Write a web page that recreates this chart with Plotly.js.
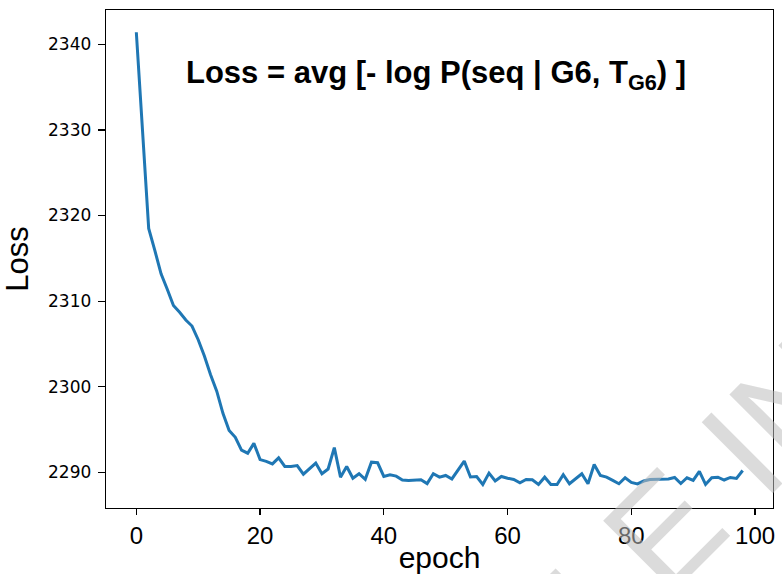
<!DOCTYPE html>
<html>
<head>
<meta charset="utf-8">
<script src="https://cdn.plot.ly/plotly-3.0.1.min.js"></script>
<style>
  html, body { margin: 0; padding: 0; background: #fff; }
  #chart { width: 782px; height: 574px; }
</style>
</head>
<body>
<div id="chart"></div>
<script>
// Epochs 0..98
const epochs = Array.from({length: 99}, (_, i) => i);

// Loss values
const lossValues = [
  2341.4, 2330.0, 2318.5, 2315.9, 2313.2, 2311.4, 2309.5, 2308.7, 2307.8, 2307.1,
  2305.5, 2303.6, 2301.4, 2299.5, 2296.9, 2294.9, 2294.1, 2292.6, 2292.25, 2293.4,
  2291.5, 2291.3, 2291.0, 2291.7, 2290.7, 2290.7, 2290.8, 2289.8, 2290.5, 2291.1,
  2289.85, 2290.4, 2292.9, 2289.45, 2290.7, 2289.33, 2289.85, 2289.2, 2291.2, 2291.13,
  2289.53, 2289.73, 2289.57, 2289.12, 2289.07, 2289.12, 2289.15, 2288.7, 2289.85, 2289.45,
  2289.65, 2289.24, 2290.3, 2291.32, 2289.47, 2289.53, 2288.6, 2289.92, 2289.0, 2289.53,
  2289.33, 2289.18, 2288.8, 2289.18, 2289.15, 2288.6, 2289.45, 2288.6, 2288.6, 2289.73,
  2288.68, 2289.26, 2289.85, 2288.68, 2290.93, 2289.65, 2289.45, 2289.07, 2288.68, 2289.38,
  2288.83, 2288.66, 2289.0, 2289.18, 2289.22, 2289.22, 2289.24, 2289.42, 2288.71, 2289.38,
  2289.07, 2290.12, 2288.6, 2289.38, 2289.45, 2289.12, 2289.42, 2289.3, 2290.23
];

const xTicks = [0, 20, 40, 60, 80, 100];
const yTicks = [2290, 2300, 2310, 2320, 2330, 2340];

const titleText = 'Loss = avg [- log P(seq | G6, T<sub>G6</sub>) ]';
const xTitle = 'epoch';
const yTitle = 'Loss';
const watermark = 'ARTICLE IN PRESS';

const trace = {
  x: epochs,
  y: lossValues,
  type: 'scatter',
  mode: 'lines',
  line: { color: '#1f77b4', width: 3 },
  hoverinfo: 'skip'
};

const layout = {
  width: 782,
  height: 574,
  margin: { l: 106, r: 9, t: 10, b: 66 },
  paper_bgcolor: '#ffffff',
  plot_bgcolor: '#ffffff',
  showlegend: false,
  font: { family: 'Liberation Sans, Arial, sans-serif', color: '#000' },
  xaxis: {
    range: [-4.9, 102.9],
    tickmode: 'array',
    tickvals: xTicks,
    ticktext: xTicks.map(String),
    ticks: 'outside',
    ticklen: 6,
    tickwidth: 1.3,
    tickcolor: '#000',
    showline: true,
    linecolor: '#000',
    linewidth: 1.3,
    mirror: true,
    showgrid: false,
    zeroline: false,
    tickfont: { size: 24, family: 'Liberation Sans, Arial, sans-serif' },
    title: { text: xTitle, font: { size: 30 }, standoff: 4 }
  },
  yaxis: {
    range: [2285.85, 2344.0],
    tickmode: 'array',
    tickvals: yTicks,
    ticktext: yTicks.map(String),
    ticks: 'outside',
    ticklen: 7,
    tickwidth: 1.3,
    tickcolor: '#000',
    ticklabelstandoff: 3,
    showline: true,
    linecolor: '#000',
    linewidth: 1.3,
    mirror: true,
    showgrid: false,
    zeroline: false,
    tickfont: { size: 17, family: 'DejaVu Sans, sans-serif' },
    title: { text: yTitle, font: { size: 31 }, standoff: 10 }
  },
  annotations: [
    {
      text: titleText,
      xref: 'paper', yref: 'paper',
      x: 0.495, y: 0.87,
      xanchor: 'center', yanchor: 'middle',
      showarrow: false,
      font: { size: 31, family: 'Liberation Sans, Arial, sans-serif', color: '#000', weight: 'bold' }
    },
    {
      text: watermark,
      xref: 'paper', yref: 'paper',
      x: 0.946, y: 0.102,
      xanchor: 'center', yanchor: 'middle',
      showarrow: false,
      textangle: -45,
      font: { size: 146, family: 'Liberation Sans, Arial, sans-serif', color: 'rgba(190,190,190,0.55)' }
    }
  ]
};

Plotly.newPlot('chart', [trace], layout, { staticPlot: true, displayModeBar: false });
</script>
</body>
</html>
